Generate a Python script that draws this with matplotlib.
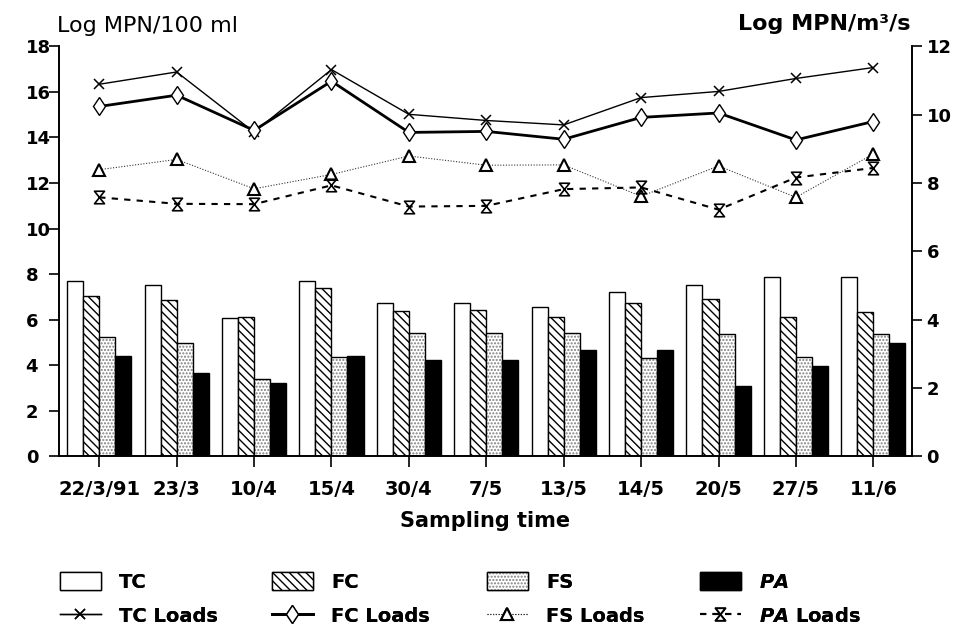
import matplotlib
matplotlib.use('Agg')
import matplotlib.pyplot as plt
import numpy as np
from matplotlib.path import Path
from matplotlib.patches import Patch
from matplotlib.legend_handler import HandlerTuple

# ---------------- data ----------------
dates = ['22/3/91', '23/3', '10/4', '15/4', '30/4', '7/5', '13/5', '14/5', '20/5', '27/5', '11/6']
# concentrations, Log MPN/100 ml (left axis)
tc = [7.70, 7.52, 6.07, 7.71, 6.71, 6.72, 6.54, 7.22, 7.54, 7.89, 7.88]
fc = [7.05, 6.88, 6.11, 7.40, 6.36, 6.43, 6.11, 6.71, 6.89, 6.11, 6.33]
fs = [5.24, 4.96, 3.38, 4.38, 5.40, 5.40, 5.40, 4.33, 5.37, 4.38, 5.36]
pa = [4.42, 3.67, 3.22, 4.41, 4.21, 4.22, 4.66, 4.67, 3.08, 3.98, 4.96]
# loads, Log MPN/m3/s (right axis)
tc_loads = [10.89, 11.25, 9.49, 11.32, 10.01, 9.83, 9.70, 10.50, 10.68, 11.06, 11.38]
fc_loads = [10.24, 10.57, 9.54, 10.98, 9.48, 9.51, 9.28, 9.92, 10.05, 9.26, 9.80]
fs_loads = [8.39, 8.69, 7.83, 8.25, 8.79, 8.52, 8.53, 7.61, 8.50, 7.58, 8.85]
pa_loads = [7.58, 7.39, 7.38, 7.93, 7.31, 7.33, 7.82, 7.87, 7.22, 8.16, 8.44]

left_ticks = [0, 2, 4, 6, 8, 10, 12, 14, 16, 18]
right_ticks = [0, 2, 4, 6, 8, 10, 12]

# ---------------- style ----------------
plt.rcParams['font.family'] = ['DejaVu Sans']
plt.rcParams['font.weight'] = 'bold'
plt.rcParams['mathtext.fontset'] = 'custom'
plt.rcParams['mathtext.it'] = 'DejaVu Sans:italic:bold'
plt.rcParams['mathtext.rm'] = 'DejaVu Sans:bold'
plt.rcParams['hatch.linewidth'] = 1.0

fig = plt.figure(figsize=(9.64, 6.35), dpi=100)
ax = fig.add_axes([0.0612, 0.2815, 0.8849, 0.6455])
ax2 = ax.twinx()

x = np.arange(len(dates))
w = 0.207
ax.bar(x - 1.5 * w, tc, w, facecolor='white', edgecolor='black', lw=1)
ax.bar(x - 0.5 * w, fc, w, facecolor='white', edgecolor='black', lw=1, hatch='\\\\\\\\')
ax.bar(x + 0.5 * w, fs, w, facecolor='white', edgecolor='#808080', lw=0, hatch='.....')
ax.bar(x + 0.5 * w, fs, w, facecolor='none', edgecolor='black', lw=1)
ax.bar(x + 1.5 * w, pa, w, facecolor='black', edgecolor='black', lw=1)

hourglass = Path([(-0.8, 1), (0.8, 1), (-0.8, -1), (0.8, -1), (-0.8, 1)],
                 [Path.MOVETO, Path.LINETO, Path.LINETO, Path.LINETO, Path.CLOSEPOLY])

l_tc, = ax2.plot(x, tc_loads, color='black', lw=1.0, marker='x', ms=7.5, mew=1.1)
l_fc, = ax2.plot(x, fc_loads, color='black', lw=2.0, marker='d', ms=9.5, mfc='white', mew=1.0)
l_fs, = ax2.plot(x, fs_loads, color='#333333', lw=0.8, ls=(0, (1, 1.5)), marker='^', ms=8.5,
                 mfc='white', mec='black', mew=1.5)
l_pa, = ax2.plot(x, pa_loads, color='black', lw=1.5, ls=(0, (3, 3)), marker=hourglass, ms=9,
                 mfc='none', mec='black', mew=1.2)

# ---------------- axes ----------------
ax.set_xlim(-0.52, 10.5)
ax.set_ylim(0, 18)
ax2.set_ylim(0, 12)
ax.set_yticks(left_ticks)
ax2.set_yticks(right_ticks)
ax.set_xticks(x)
ax.set_xticklabels(dates)

for a in (ax, ax2):
    a.spines['top'].set_visible(False)
    for s in ('left', 'right', 'bottom'):
        a.spines[s].set_linewidth(1.2)

ax.tick_params(axis='y', direction='out', length=7, width=1.2, labelsize=13, pad=17)
for lab in ax.get_yticklabels():
    lab.set_horizontalalignment('left')
ax2.tick_params(axis='y', direction='out', length=7, width=1.2, labelsize=13, pad=3.5)
ax.tick_params(axis='x', direction='out', length=8, width=1.2, labelsize=14, pad=9)

fig.text(0.5036, 1 - 527 / 635, 'Sampling time', ha='center', va='baseline', fontsize=15)
fig.text(57 / 964, 1 - 32 / 635, 'Log MPN/100 ml', ha='left', va='baseline', fontsize=16,
         fontweight='normal')
fig.text(910 / 964, 1 - 30 / 635, 'Log MPN/m\u00b3/s', ha='right', va='baseline', fontsize=16)

# ---------------- legend ----------------
p_tc = Patch(facecolor='white', edgecolor='black', lw=1)
p_fc = Patch(facecolor='white', edgecolor='black', lw=1, hatch='\\\\\\\\')
p_fs1 = Patch(facecolor='white', edgecolor='#808080', lw=0, hatch='.....')
p_fs2 = Patch(facecolor='none', edgecolor='black', lw=1)
p_pa = Patch(facecolor='black', edgecolor='black', lw=1)

cols = [
    ([p_tc, l_tc], ['TC', 'TC Loads'], 60),
    ([p_fc, l_fc], ['FC', 'FC Loads'], 272),
    ([(p_fs1, p_fs2), l_fs], ['FS', 'FS Loads'], 487),
    ([p_pa, l_pa], [r'$\mathit{PA}$', r'$\mathit{PA}$ Loads'], 700),
]
for handles, labels, xpx in cols:
    leg = fig.legend(handles, labels, loc='upper left',
                     bbox_to_anchor=(xpx / 964, 1 - 572 / 635),
                     bbox_transform=fig.transFigure, frameon=False,
                     fontsize=14, handlelength=2.1, handleheight=1.03,
                     handletextpad=0.95, labelspacing=0.78, borderpad=0,
                     borderaxespad=0, numpoints=1,
                     handler_map={tuple: HandlerTuple(ndivide=1, pad=0)})
    fig.add_artist(leg)

fig.savefig('out.png', dpi=100)
